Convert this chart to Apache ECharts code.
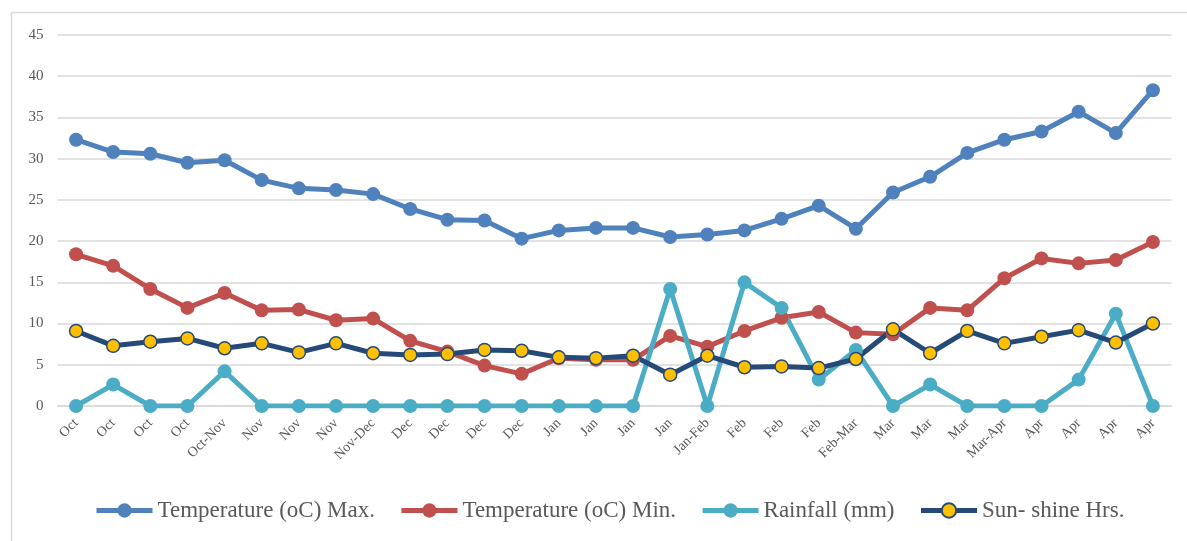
<!DOCTYPE html>
<html>
<head>
<meta charset="utf-8">
<script src="https://cdn.jsdelivr.net/npm/echarts@6/dist/echarts.min.js"></script>
<style>
html,body{margin:0;padding:0;background:#fff;}
#c{width:1187px;height:541px;}
</style>
</head>
<body>
<div id="c"></div>
<script>
var categories = ["Oct","Oct","Oct","Oct","Oct-Nov","Nov","Nov","Nov","Nov-Dec","Dec","Dec","Dec","Dec","Jan","Jan","Jan","Jan","Jan-Feb","Feb","Feb","Feb","Feb-Mar","Mar","Mar","Mar","Mar-Apr","Apr","Apr","Apr","Apr"];
var tempMax = [32.3,30.8,30.6,29.5,29.8,27.4,26.4,26.2,25.7,23.9,22.6,22.5,20.3,21.3,21.6,21.6,20.5,20.8,21.3,22.7,24.3,21.5,25.9,27.8,30.7,32.3,33.3,35.7,33.1,38.3];
var tempMin = [18.4,17.0,14.2,11.9,13.7,11.6,11.7,10.4,10.6,7.9,6.6,4.9,3.9,5.8,5.6,5.6,8.5,7.2,9.1,10.7,11.4,8.9,8.7,11.9,11.6,15.5,17.9,17.3,17.7,19.9];
var rainfall = [0,2.6,0,0,4.2,0,0,0,0,0,0,0,0,0,0,0,14.2,0,15.0,11.9,3.2,6.8,0,2.6,0,0,0,3.2,11.2,0];
var sunshine = [9.1,7.3,7.8,8.2,7.0,7.6,6.5,7.6,6.4,6.2,6.3,6.8,6.7,5.9,5.8,6.1,3.8,6.1,4.7,4.8,4.6,5.7,9.3,6.4,9.1,7.6,8.4,9.2,7.7,10.0];
var seriesNames = ["Temperature (oC) Max.","Temperature (oC) Min.","Rainfall (mm)","Sun- shine Hrs."];

var font = "'Liberation Serif', 'DejaVu Serif', serif";
var chart = echarts.init(document.getElementById('c'), null, {renderer:'canvas'});

function lineSeries(name, data, color, opts){
  var s = {
    name: name, type: 'line', data: data,
    symbol: 'circle', symbolSize: 14,
    lineStyle: {color: color, width: 5},
    itemStyle: {color: color},
    emphasis: {disabled: true},
    animation: false
  };
  if (opts) Object.assign(s, opts);
  return s;
}

chart.setOption({
  backgroundColor: '#fff',
  animation: false,
  graphic: [{
    type: 'rect', shape: {x: 11.5, y: 12.5, width: 1200, height: 600},
    style: {fill: 'none', stroke: '#d9d9d9', lineWidth: 1.5}, silent: true, z: -1
  }],
  grid: {left: 57.5, right: 15.5, top: 35, bottom: 135, containLabel: false},
  legend: {
    left: 94, top: 499, padding: 0,
    itemWidth: 56, itemHeight: 18, itemGap: 24,
    lineStyle: {width: 5},
    textStyle: {fontFamily: font, fontSize: 23, color: '#595959'},
    data: seriesNames
  },
  xAxis: {
    type: 'category', data: categories, boundaryGap: true,
    axisLine: {show: true, lineStyle: {color: '#d9d9d9', width: 1.5}},
    axisTick: {show: false},
    axisLabel: {interval: 0, rotate: 45, fontFamily: font, fontSize: 14, color: '#595959', margin: 15}
  },
  yAxis: {
    type: 'value', min: 0, max: 45, interval: 5,
    axisLine: {show: false}, axisTick: {show: false},
    splitLine: {lineStyle: {color: '#d9d9d9', width: 1.5}},
    axisLabel: {fontFamily: font, fontSize: 15, color: '#595959', margin: 14}
  },
  series: [
    lineSeries(seriesNames[0], tempMax, '#4F81BD'),
    lineSeries(seriesNames[1], tempMin, '#C0504D'),
    lineSeries(seriesNames[2], rainfall, '#4BACC6'),
    lineSeries(seriesNames[3], sunshine, '#264A78', {
      symbolSize: 13,
      itemStyle: {color: '#FFC000', borderColor: '#264A78', borderWidth: 1.5}
    })
  ]
});
</script>
</body>
</html>
